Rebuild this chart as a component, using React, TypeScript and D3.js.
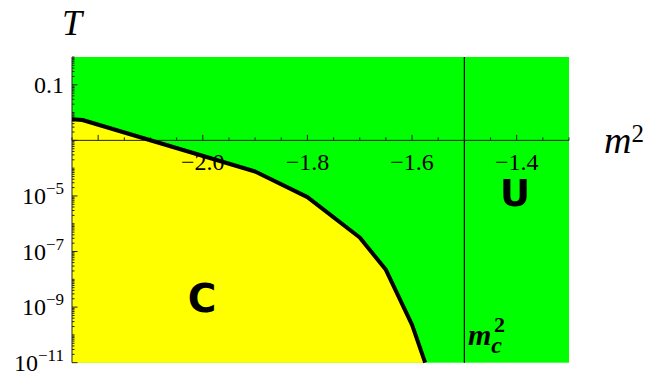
import React, { useEffect, useRef } from 'react'
import * as d3 from 'd3'

// phase boundary between C (yellow) and U (green)
const boundaryM2 = [-2.25, -2.23, -1.9, -1.8, -1.7, -1.65, -1.6, -1.575]
const boundaryT = [5.8e-3, 5.4e-3, 7.6e-5, 9.1e-6, 3.2e-7, 2.2e-8, 2.3e-10, 1e-11]

const m2Critical = -1.5
const xMajorTicks = [-2.2, -2.0, -1.8, -1.6, -1.4]
const xLabelTicks = [-2.0, -1.8, -1.6, -1.4]
const yMajorExps = [-1, -3, -5, -7, -9, -11]
const yLabelExps = [-1, -5, -7, -9, -11]

const App = () => {
  const ref = useRef<SVGSVGElement>(null)

  useEffect(() => {
    const svg = d3.select(ref.current)
    svg.selectAll('*').remove()

    const x = d3.scaleLinear().domain([-2.25, -1.3]).range([72, 569])
    const y = d3.scaleLog().domain([1e-11, 1]).range([362.7, 57])
    const serif = 'Liberation Serif, Times New Roman, serif'

    // background (U region)
    svg.append('rect')
      .attr('x', x(-2.25)).attr('y', y(1))
      .attr('width', x(-1.3) - x(-2.25)).attr('height', y(1e-11) - y(1))
      .attr('fill', '#00ff00')

    const pts: [number, number][] = boundaryM2.map((m, i) => [x(m), y(boundaryT[i])])

    // C region
    const poly = [[x(-2.25), y(1e-11)] as [number, number], ...pts]
    svg.append('path')
      .attr('d', d3.line()(poly) + 'Z')
      .attr('fill', '#ffff00')

    // critical mass line
    svg.append('line')
      .attr('x1', x(m2Critical)).attr('x2', x(m2Critical))
      .attr('y1', y(1)).attr('y2', y(1e-11))
      .attr('stroke', 'black').attr('stroke-width', 1.2)

    // x axis at T = 1e-3
    const y0 = y(1e-3)
    svg.append('line')
      .attr('x1', x(-2.25)).attr('x2', x(-1.3))
      .attr('y1', y0).attr('y2', y0)
      .attr('stroke', '#222').attr('stroke-width', 1)

    const minorX = d3.range(0, 20).map(i => -2.25 + i * 0.05)
    svg.append('g').selectAll('line').data(minorX).enter().append('line')
      .attr('x1', d => x(d)).attr('x2', d => x(d))
      .attr('y1', y0).attr('y2', d => xMajorTicks.some(t => Math.abs(t - d) < 1e-6) ? y0 - 5.5 : y0 - 3)
      .attr('stroke', '#222').attr('stroke-width', 1)

    svg.append('g').selectAll('text').data(xLabelTicks).enter().append('text')
      .attr('x', d => x(d)).attr('y', y0 + 30)
      .attr('text-anchor', 'middle')
      .style('font-family', serif).style('font-size', '24px')
      .text(d => '\u2212' + Math.abs(d).toFixed(1))

    // y axis at left edge
    svg.append('line')
      .attr('x1', 72).attr('x2', 72)
      .attr('y1', y(1)).attr('y2', y(1e-11))
      .attr('stroke', '#222').attr('stroke-width', 1)

    const minorY: number[] = []
    for (let e = -11; e < 0; e++) {
      for (let k = 1; k < 10; k++) minorY.push(k * Math.pow(10, e))
    }
    minorY.push(1)
    svg.append('g').selectAll('line').data(minorY).enter().append('line')
      .attr('x1', 72)
      .attr('x2', d => {
        const e = Math.log10(d)
        return Math.abs(e - Math.round(e)) < 1e-6 && yMajorExps.includes(Math.round(e)) ? 77.5 : 74.5
      })
      .attr('y1', d => y(d)).attr('y2', d => y(d))
      .attr('stroke', '#222').attr('stroke-width', 1)

    const yl = svg.append('g').selectAll('text').data(yLabelExps).enter().append('text')
      .attr('x', 64).attr('y', d => y(Math.pow(10, d)) + 8)
      .attr('text-anchor', 'end')
      .style('font-family', serif).style('font-size', '24px')
    yl.each(function (d) {
      const t = d3.select(this)
      if (d === -1) {
        t.text('0.1')
      } else {
        t.append('tspan').text('10')
        t.append('tspan').attr('dy', -10).style('font-size', '17px').text('\u2212' + Math.abs(d))
      }
    })

    // boundary curve
    svg.append('path')
      .attr('d', d3.line()(pts))
      .attr('fill', 'none').attr('stroke', 'black').attr('stroke-width', 4)
      .attr('stroke-linejoin', 'round')

    // axis titles
    svg.append('text').attr('x', 62).attr('y', 35)
      .style('font-family', serif).style('font-style', 'italic').style('font-size', '36px')
      .text('T')
    const mt = svg.append('text').attr('x', 604).attr('y', 153)
      .style('font-family', serif).style('font-style', 'italic').style('font-size', '38px')
    mt.append('tspan').text('m')
    mt.append('tspan').attr('dy', -11).style('font-style', 'normal').style('font-size', '25px').text('2')

    // region labels
    svg.append('text').attr('x', 202).attr('y', 312).attr('text-anchor', 'middle')
      .style('font-family', 'DejaVu Sans, sans-serif').style('font-weight', 'bold').style('font-size', '39px')
      .text('C')
    svg.append('text').attr('x', 515).attr('y', 206).attr('text-anchor', 'middle')
      .style('font-family', 'DejaVu Sans, sans-serif').style('font-weight', 'bold').style('font-size', '37px')
      .text('U')

    // m_c^2 label
    const lab = svg.append('text').attr('x', 468).attr('y', 345)
      .style('font-family', serif).style('font-weight', 'bold').style('font-style', 'italic')
      .style('font-size', '30px')
    lab.append('tspan').text('m')
    lab.append('tspan').attr('dy', 8).style('font-size', '24px').text('c')
    lab.append('tspan').attr('x', 494).attr('y', 332).style('font-size', '22px').style('font-style', 'normal').text('2')
  }, [])

  return (
    <svg ref={ref} width={648} height={375}
      style={{ position: 'absolute', left: 0, top: 0, background: 'white' }} />
  )
}

export default App
